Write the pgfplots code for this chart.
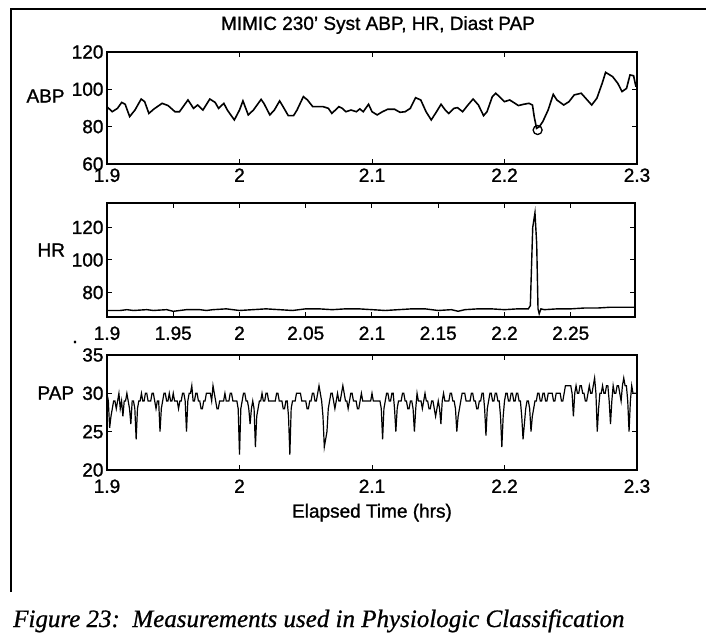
\documentclass[border=0pt]{standalone}
\usepackage{fontspec}
\setmainfont{Liberation Sans}[BoldFont={Liberation Sans}, BoldFeatures={FakeBold=1.2}]
\newfontfamily\capfont{Liberation Serif}[BoldItalicFont={Liberation Serif Italic}, BoldItalicFeatures={FakeBold=0.8}]
\usepackage{pgfplots}
\pgfplotsset{compat=1.18}

\newcommand{\lbl}{\fontsize{19}{19}\selectfont\bfseries}

\pgfplotsset{
  mimic/.style={
    scale only axis,
    width=530pt,
    xmin=1.9, xmax=2.3,
    axis line style={line width=1.2pt},
    tick align=inside,
    major tick length=5pt,
    every tick/.style={black, line width=1pt},
    xtick pos=both, ytick pos=both,
    xticklabel pos=lower, yticklabel pos=left,
    /pgf/number format/assume math mode=true,
    tick label style={font=\lbl},
    clip=true,
  },
}

\begin{document}
\begin{tikzpicture}[x=1pt,y=1pt]
\useasboundingbox (0,0) rectangle (706,632);

% frame of the scanned figure
\draw[line width=1.8pt] (11,40) -- (11,623) -- (706,623);

\node[font=\lbl] at (378,607) {MIMIC 230' Syst ABP, HR, Diast PAP};

% ABP
\begin{axis}[mimic, at={(107pt,580pt)}, anchor=north west, height=112pt,
  ymin=60, ymax=120, ytick={60,80,100,120},
  xtick={1.9,2,2.1,2.2,2.3}, xticklabels={1.9,2,2.1,2.2,2.3},
  xticklabel style={yshift=-1pt}]
\addplot[black, line width=1.6pt] coordinates {
(1.9000,90.7)(1.9039,88.0)(1.9079,89.8)(1.9111,93.0)(1.9137,92.0)(1.9171,85.4)
(1.9211,88.9)(1.9258,94.8)(1.9284,93.4)(1.9316,87.1)(1.9355,89.5)(1.9416,92.5)
(1.9461,91.3)(1.9513,88.0)(1.9547,88.0)(1.9611,94.3)(1.9653,89.8)(1.9684,91.6)
(1.9724,88.9)(1.9776,94.8)(1.9816,93.0)(1.9842,89.8)(1.9882,92.5)(1.9908,88.9)
(1.9961,83.6)(2.0000,88.9)(2.0026,93.8)(2.0066,86.3)(2.0105,88.9)(2.0163,94.6)
(2.0184,92.5)(2.0229,86.3)(2.0263,88.9)(2.0303,93.8)(2.0329,90.7)(2.0368,85.9)
(2.0408,85.9)(2.0434,88.9)(2.0482,96.1)(2.0513,94.3)(2.0553,90.7)(2.0632,90.7)
(2.0671,89.8)(2.0697,87.1)(2.0750,90.7)(2.0776,89.8)(2.0803,88.0)(2.0842,88.9)
(2.0882,88.0)(2.0908,89.5)(2.0934,88.0)(2.0974,92.0)(2.1000,88.0)(2.1039,86.3)
(2.1079,88.0)(2.1118,89.3)(2.1171,89.3)(2.1211,87.7)(2.1250,88.0)(2.1289,89.8)
(2.1329,95.5)(2.1368,94.3)(2.1408,88.0)(2.1447,83.6)(2.1487,88.0)(2.1521,92.0)
(2.1553,88.9)(2.1579,87.1)(2.1618,89.8)(2.1645,90.2)(2.1684,88.0)(2.1724,91.6)
(2.1763,94.8)(2.1803,91.6)(2.1842,85.9)(2.1868,88.0)(2.1908,96.1)(2.1934,97.9)
(2.1961,96.1)(2.2000,93.4)(2.2039,94.3)(2.2079,92.5)(2.2105,91.3)(2.2145,92.0)
(2.2184,92.5)(2.2211,91.6)(2.2224,85.4)(2.2242,79.1)(2.2263,80.0)(2.2289,82.7)
(2.2329,88.9)(2.2368,97.3)(2.2395,94.3)(2.2447,91.6)(2.2487,93.4)(2.2526,97.0)
(2.2579,97.9)(2.2618,94.8)(2.2658,91.6)(2.2697,95.2)(2.2737,103.2)(2.2763,109.1)
(2.2816,106.8)(2.2855,103.2)(2.2887,98.8)(2.2921,100.5)(2.2947,107.7)(2.2974,107.3)
(2.2992,101.4)
};
\addplot[black, only marks, mark=o, mark size=4.5pt, line width=1.3pt] coordinates {(2.2250,78.2)};
\end{axis}

% HR
\begin{axis}[mimic, at={(107pt,429pt)}, anchor=north west, height=114pt, width=528pt,
  xmax=2.2985,
  ymin=65, ymax=135, ytick={80,100,120},
  xtick={1.9,1.95,2,2.05,2.1,2.15,2.2,2.25},
  xticklabels={1.9,1.95,2,2.05,2.1,2.15,2.2,2.25},
  xticklabel style={yshift=-6pt}]
\addplot[black, line width=1.4pt] coordinates {
(1.900,69)(1.910,69)(1.915,69.5)(1.920,69)(1.930,69.5)(1.935,69)(1.945,69.5)
(1.950,68.5)(1.960,69.5)(1.970,69.5)(1.975,69)(1.980,69.5)(1.990,70)(2.000,69)
(2.010,69.5)(2.020,70)(2.030,69.5)(2.040,69)(2.050,70)(2.060,70)(2.070,69.5)
(2.080,70)(2.090,70)(2.100,69.5)(2.110,69)(2.120,69.5)(2.130,70)(2.140,70)
(2.150,69)(2.160,69.5)(2.165,68.5)(2.170,69.5)(2.180,70)(2.190,70)(2.200,69.5)
(2.210,70)(2.218,70)(2.2195,72)(2.2213,120)(2.2230,129)(2.2243,110)(2.2253,70)
(2.2262,67)(2.2275,70)(2.230,69.5)(2.240,70)(2.250,70)(2.260,70.5)(2.270,70.5)
(2.280,71)(2.2985,71)
};
\end{axis}
\node[font=\lbl] at (75,290) {.};

% PAP
\begin{axis}[mimic, at={(107pt,277pt)}, anchor=north west, height=115pt,
  ymin=20, ymax=35, ytick={20,25,30,35},
  xtick={1.9,2,2.1,2.2,2.3}, xticklabels={1.9,2,2.1,2.2,2.3},
  xticklabel style={yshift=-6pt},
  xlabel={Elapsed Time (hrs)},
  xlabel style={font=\lbl, yshift=-4pt}]
\addplot[black, line width=1.2pt] coordinates {
(1.900,30)(1.901,29)(1.902,25.5)(1.903,27)(1.904,28)(1.905,29)(1.906,29)(1.907,28)(1.908,29)(1.909,30)
(1.910,28)(1.911,29)(1.912,27)(1.913,29)(1.914,29)(1.915,30)(1.916,29)(1.917,28)(1.918,26)(1.919,29)
(1.920,29)(1.921,28)(1.922,24)(1.923,28)(1.924,29)(1.925,29)(1.926,30)(1.927,29)(1.928,29)(1.929,30)
(1.930,30)(1.931,29)(1.932,29)(1.933,29)(1.934,30)(1.935,30)(1.936,29)(1.937,28)(1.938,29)(1.939,29)
(1.940,25)(1.941,28)(1.942,29)(1.943,30)(1.944,30)(1.945,29)(1.946,29)(1.947,30)(1.948,29)(1.949,29)
(1.950,30)(1.951,29)(1.952,29)(1.953,29)(1.954,28)(1.955,29)(1.956,29)(1.957,30)(1.958,30)(1.959,29)
(1.960,25)(1.961,29)(1.962,30)(1.963,30)(1.964,31)(1.965,29)(1.966,29)(1.967,30)(1.968,30)(1.969,29)
(1.970,29)(1.971,28)(1.972,28)(1.973,29)(1.974,29)(1.975,30)(1.976,30)(1.977,30)(1.978,30)(1.979,29)
(1.980,31)(1.981,30)(1.982,29)(1.983,28)(1.984,28)(1.985,29)(1.986,29)(1.987,29)(1.988,29)(1.989,30)
(1.990,29)(1.991,29)(1.992,29)(1.993,30)(1.994,30)(1.995,29)(1.996,29)(1.997,29)(1.998,29)(1.999,28)
(2.000,22)(2.001,28)(2.002,29)(2.003,30)(2.004,30)(2.005,29)(2.006,29)(2.007,28)(2.008,26)(2.009,28)
(2.010,29)(2.011,28)(2.012,23)(2.013,27)(2.014,28)(2.015,29)(2.016,29)(2.017,30)(2.018,29)(2.019,29)
(2.020,30)(2.021,30)(2.022,29)(2.023,29)(2.024,29)(2.025,29)(2.026,29)(2.027,29)(2.028,30)(2.029,30)
(2.030,29)(2.031,29)(2.032,29)(2.033,28)(2.034,28)(2.035,29)(2.036,29)(2.037,27)(2.038,22)(2.039,28)
(2.040,29)(2.041,29)(2.042,29)(2.043,30)(2.044,30)(2.045,30)(2.046,30)(2.047,29)(2.048,29)(2.049,29)
(2.050,29)(2.051,28)(2.052,28)(2.053,29)(2.054,29)(2.055,30)(2.056,30)(2.057,29)(2.058,29)(2.059,30)
(2.060,31)(2.061,30)(2.062,29)(2.063,27)(2.064,23)(2.065,24)(2.066,25)(2.067,28)(2.068,29)(2.069,30)
(2.070,30)(2.071,29)(2.072,28)(2.073,29)(2.074,30)(2.075,29)(2.076,29)(2.077,30)(2.078,31)(2.079,30)
(2.080,29)(2.081,29)(2.082,28)(2.083,29)(2.084,30)(2.085,30)(2.086,29)(2.087,29)(2.088,29)(2.089,28)
(2.090,28)(2.091,29)(2.092,30)(2.093,29)(2.094,29)(2.095,29)(2.096,29)(2.097,29)(2.098,29)(2.099,29)
(2.100,30)(2.101,29)(2.102,29)(2.103,29)(2.104,29)(2.105,29)(2.106,29)(2.107,28)(2.108,24)(2.109,28)
(2.110,29)(2.111,30)(2.112,30)(2.113,29)(2.114,29)(2.115,30)(2.116,30)(2.117,28)(2.118,25)(2.119,28)
(2.120,29)(2.121,29)(2.122,29)(2.123,30)(2.124,30)(2.125,29)(2.126,29)(2.127,28)(2.128,28)(2.129,29)
(2.130,29)(2.131,28)(2.132,25)(2.133,28)(2.134,30)(2.135,29)(2.136,29)(2.137,29)(2.138,28)(2.139,29)
(2.140,30)(2.141,29)(2.142,29)(2.143,28)(2.144,28)(2.145,29)(2.146,29)(2.147,28)(2.148,27)(2.149,28)
(2.150,29)(2.151,28)(2.152,26)(2.153,29)(2.154,30)(2.155,29)(2.156,29)(2.157,29)(2.158,29)(2.159,30)
(2.160,30)(2.161,29)(2.162,29)(2.163,28)(2.164,25)(2.165,27)(2.166,28)(2.167,29)(2.168,30)(2.169,30)
(2.170,30)(2.171,29)(2.172,29)(2.173,29)(2.174,29)(2.175,30)(2.176,30)(2.177,29)(2.178,29)(2.179,28)
(2.180,28)(2.181,29)(2.182,29)(2.183,30)(2.184,30)(2.185,28)(2.186,24.5)(2.187,28)(2.188,29)(2.189,30)
(2.190,30)(2.191,29)(2.192,29)(2.193,30)(2.194,30)(2.195,29)(2.196,29)(2.197,27)(2.198,23)(2.199,27)
(2.200,29)(2.201,30)(2.202,30)(2.203,29)(2.204,29)(2.205,30)(2.206,30)(2.207,29)(2.208,29)(2.209,30)
(2.210,30)(2.211,29)(2.212,29)(2.213,27)(2.214,24)(2.215,26)(2.216,28)(2.217,29)(2.218,29)(2.219,28)
(2.220,25)(2.221,27)(2.222,28)(2.223,29)(2.224,29)(2.225,30)(2.226,30)(2.227,29)(2.228,29)(2.229,30)
(2.230,30)(2.231,29)(2.232,29)(2.233,30)(2.234,30)(2.235,30)(2.236,30)(2.237,29)(2.238,29)(2.239,30)
(2.240,30)(2.241,30)(2.242,30)(2.243,29)(2.244,29)(2.245,30)(2.246,31)(2.247,31)(2.248,31)(2.249,31)
(2.250,31)(2.251,30)(2.252,27)(2.253,30)(2.254,31)(2.255,30)(2.256,30)(2.257,31)(2.258,31)(2.259,30)
(2.260,30)(2.261,29)(2.262,29)(2.263,30)(2.264,31)(2.265,30)(2.266,30)(2.267,31)(2.268,32)(2.269,30)
(2.270,25)(2.271,28)(2.272,30)(2.273,30)(2.274,31)(2.275,30)(2.276,30)(2.277,31)(2.278,31)(2.279,29)
(2.280,26)(2.281,29)(2.282,31)(2.283,30)(2.284,30)(2.285,31)(2.286,31)(2.287,30)(2.288,29)(2.289,31)
(2.290,32)(2.291,31)(2.292,31)(2.293,29)(2.294,25)(2.295,29)(2.296,31)(2.297,30)(2.298,30)(2.299,30)
(2.300,30)
};
\end{axis}

% row labels
\node[anchor=west, font=\lbl] at (23,536) {ABP};
\node[anchor=west, font=\lbl] at (34,382) {HR};
\node[anchor=west, font=\lbl] at (34,239) {PAP};

\node[anchor=base west, font=\capfont\itshape\bfseries\fontsize{25}{25}\selectfont, inner sep=0pt]
  at (13,5) {Figure 23:\ \ Measurements used in Physiologic Classification};
\end{tikzpicture}
\end{document}
